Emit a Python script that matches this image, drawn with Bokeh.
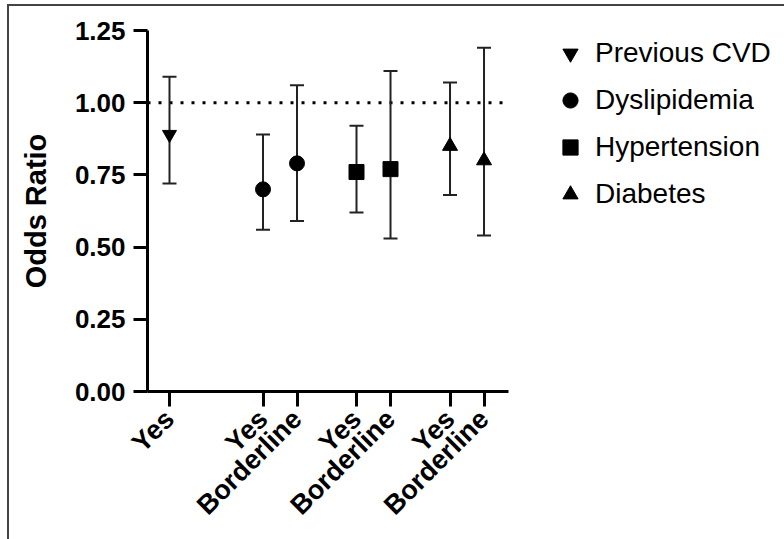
import math
from bokeh.plotting import figure
from bokeh.models import (Range1d, FixedTicker, NumeralTickFormatter, Span, Whisker,
                          TeeHead, ColumnDataSource, Legend, LegendItem)
from bokeh.embed import file_html
from bokeh.resources import INLINE

# ---- data ----
groups = ["Previous CVD", "Dyslipidemia", "Hypertension", "Diabetes"]
levels = ["Yes", "Borderline"]
cat_group = ["Previous CVD", "Dyslipidemia", "Dyslipidemia", "Hypertension",
             "Hypertension", "Diabetes", "Diabetes"]
cat_level = ["Yes", "Yes", "Borderline", "Yes", "Borderline", "Yes", "Borderline"]
odds = [0.89, 0.70, 0.79, 0.76, 0.77, 0.85, 0.80]
ci_low = [0.72, 0.56, 0.59, 0.62, 0.53, 0.68, 0.54]
ci_high = [1.09, 0.89, 1.06, 0.92, 1.11, 1.07, 1.19]
y_ticks = [0.0, 0.25, 0.5, 0.75, 1.0, 1.25]
markers = ["inverted_triangle", "circle", "square", "triangle"]

# ---- layout positions (group slots) ----
GROUP_STEP = 2.75
xs = [groups.index(g) * GROUP_STEP + levels.index(l) for g, l in zip(cat_group, cat_level)]

FONT = "Liberation Sans"

p = figure(frame_width=361, frame_height=361,
           min_border_left=138, min_border_right=276,
           min_border_top=24, min_border_bottom=148,
           x_range=Range1d(-0.647, 9.97), y_range=Range1d(0, 1.25),
           output_backend="svg", toolbar_location=None)
p.xgrid.visible = False
p.ygrid.visible = False
p.outline_line_color = None
p.background_fill_color = "white"
p.border_fill_color = "white"
p.styles = {"margin-left": "7px", "margin-top": "4px",
            "border-left": "2px solid #444", "border-top": "2px solid #444"}

for ax in (p.xaxis[0], p.yaxis[0]):
    ax.axis_line_width = 3
    ax.axis_line_color = "black"
    ax.major_tick_line_width = 3
    ax.major_tick_line_color = "black"
    ax.minor_tick_line_color = None
    ax.major_tick_in = 0
    ax.major_label_text_font = FONT
    ax.major_label_text_font_style = "bold"
    ax.major_label_text_color = "black"

ya = p.yaxis[0]
ya.major_label_text_font_size = "26px"
ya.ticker = FixedTicker(ticks=y_ticks)
ya.formatter = NumeralTickFormatter(format="0.00")
ya.major_tick_out = 14
ya.major_label_standoff = 8
ya.axis_label = "Odds Ratio"
ya.axis_label_text_font = FONT
ya.axis_label_text_font_style = "bold"
ya.axis_label_text_font_size = "29px"
ya.axis_label_text_color = "black"
ya.axis_label_standoff = 20

xa = p.xaxis[0]
xa.major_label_text_font_size = "27px"
xa.ticker = FixedTicker(ticks=xs)
xa.major_label_overrides = {float(x): l for x, l in zip(xs, cat_level)}
xa.major_tick_out = 15
xa.major_label_orientation = math.pi / 4
xa.major_label_standoff = 8

# reference line at OR = 1
p.add_layout(Span(location=1.0, dimension="width", line_color="black",
                  line_width=3, line_dash="3 8", level="underlay"))

# error bars
wsrc = ColumnDataSource(dict(x=xs, lo=ci_low, hi=ci_high))
p.add_layout(Whisker(source=wsrc, base="x", lower="lo", upper="hi",
                     line_color="#222222", line_width=2, level="underlay",
                     upper_head=TeeHead(size=14, line_width=2, line_color="#222222"),
                     lower_head=TeeHead(size=14, line_width=2, line_color="#222222")))

items = []
for gi, g in enumerate(groups):
    idx = [i for i, cg in enumerate(cat_group) if cg == g]
    src = ColumnDataSource(dict(x=[xs[i] for i in idx], y=[odds[i] for i in idx]))
    r = p.scatter(x="x", y="y", source=src, marker=markers[gi],
                  size=14 if markers[gi] == "inverted_triangle" else 15,
                  fill_color="black", line_color="black")
    items.append(LegendItem(label=g, renderers=[r]))

legend = Legend(items=items, location=(43, 178), orientation="vertical",
                glyph_width=38, glyph_height=38, label_standoff=6, spacing=9,
                padding=0, margin=0, border_line_color=None,
                background_fill_alpha=0, label_text_font=FONT,
                label_text_font_size="28px", label_text_color="black")
p.add_layout(legend, "right")

open("out.html", "w").write(file_html(p, INLINE))
